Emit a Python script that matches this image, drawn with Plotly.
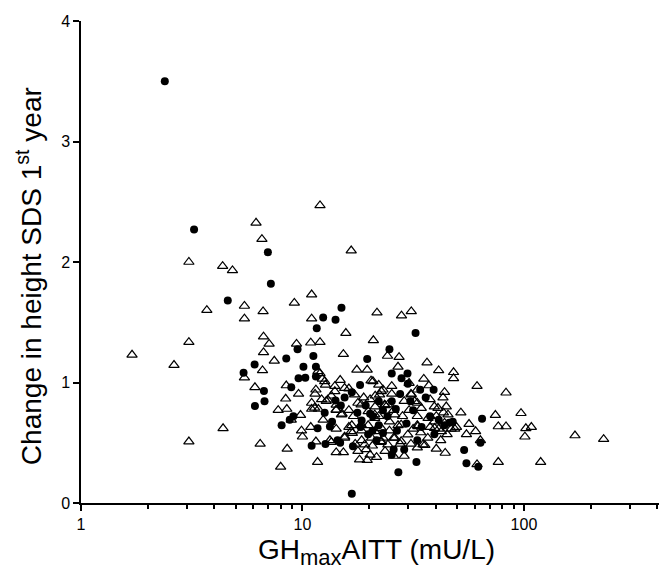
import plotly.graph_objects as go

# filled circles
circle_x = [2.39, 3.24, 4.60, 6.98, 7.2, 15.0, 12.4, 14.1, 11.6, 32.4, 24.7, 8.45, 9.5, 11.2,
            6.08, 5.42, 10.1, 11.5, 19.6, 29.8, 25.3, 9.6, 10.3, 11.5, 28.0, 6.7, 8.9, 6.1,
            6.74, 18.2, 29.9, 34.0, 39.1, 64.7, 53.7, 55.0, 62.2, 63.6, 32.7, 27.1, 16.7, 11.0,
            12.7, 16.9, 8.05, 8.76, 9.1, 11.7, 13.3, 14.4, 14.8, 12.6, 14.1, 16.7, 14.9, 18.5,
            19.3, 20.2, 20.7, 22.1, 23.1, 25.3, 27.6, 29.5, 31.6, 28.8, 25.8, 25.3, 37.7, 41.2,
            46.0, 39.4, 34.5, 33.0, 21.6, 19.8, 17.7, 23.1, 24.2, 30.7, 26.4, 22.1, 15.5, 13.6,
            43.8, 36.0, 20.8, 26.7, 18.3, 47.7]
circle_y = [3.50, 2.27, 1.68, 2.08, 1.82, 1.62, 1.54, 1.52, 1.45, 1.41, 1.275, 1.20, 1.275, 1.22,
            1.15, 1.08, 1.13, 1.13, 1.195, 1.075, 1.075, 1.035, 1.04, 1.05, 1.035, 0.93, 0.96, 0.805,
            0.845, 0.98, 0.99, 0.94, 0.94, 0.70, 0.44, 0.33, 0.30, 0.50, 0.34, 0.255, 0.077, 0.475,
            0.49, 0.47, 0.645, 0.69, 0.72, 0.62, 0.635, 0.52, 0.50, 0.75, 0.85, 0.92, 0.81, 0.685,
            0.81, 0.74, 0.60, 0.645, 0.77, 0.845, 0.905, 0.66, 0.77, 0.445, 0.445, 0.40, 0.72, 0.69,
            0.665, 0.57, 0.63, 0.52, 0.52, 0.57, 0.75, 0.58, 0.72, 0.845, 0.78, 0.845, 0.875, 0.675,
            0.645, 0.875, 0.72, 0.60, 0.63, 0.675]

# open triangles
tri_x = [1.70, 2.63, 3.07, 3.07, 3.07, 3.70, 4.36, 4.83, 4.38, 5.47, 5.47, 5.47, 6.17, 6.56,
         6.64, 6.67, 6.67, 7.07, 7.46, 6.6, 6.1, 6.44, 7.97, 8.53, 9.19, 9.4, 9.6, 8.45, 8.4,
         7.77, 8.5, 8.9, 9.8, 9.9, 10.0, 11.0, 11.0, 10.9, 12.0, 12.0, 16.6, 15.7, 15.3, 20.9,
         21.7, 28.0, 31.0, 24.2, 27.3, 27.0, 36.5, 41.2, 48.1, 48.1, 37.2, 43.8, 61.4, 83.0,
         51.9, 74.3, 97.0, 76.6, 83.0, 102, 108, 101, 170, 229, 119, 76.6, 61.4, 55.0, 56.5,
         60.5, 63.6, 48.7, 44.1, 40.2, 35.7, 28.8, 25.8, 21.6, 19.6, 18.1, 15.3, 14.2, 11.7,
         11.5, 10.9, 12.4, 13.3, 16.8, 16.7, 12.0, 12.3, 12.7, 11.4, 11.0, 11.0, 12.8, 14.0,
         14.8, 16.2, 17.6, 19.6, 20.4, 22.1, 23.1, 25.3, 30.9, 33.0, 37.7, 39.4, 40.2, 43.3,
         44.6, 46.9, 45.0, 42.1, 36.8, 34.2, 31.6, 33.0, 30.3, 28.3, 27.0, 24.7, 24.7, 25.8,
         23.6, 21.3, 21.3, 18.9, 17.8, 16.2, 15.1, 14.2, 13.5, 12.2, 11.8, 14.2, 15.5, 18.5,
         19.4, 20.7, 22.6, 23.1, 25.8, 27.6, 30.9, 33.0, 37.7, 41.2, 19.8, 18.5, 22.1, 20.2,
         39.4, 33.0, 16.2, 17.3, 23.6, 25.3, 28.8, 30.3, 14.2, 17.0, 33.0, 49.6, 43.1, 35.3,
         13.5, 20.2, 17.8,
         11.75, 12.6, 11.5, 11.35, 13.0, 14.2, 15.0, 14.0, 15.5, 17.2, 18.4, 19.8, 21.2, 18.4,
         16.6, 15.5, 19.1, 20.5, 22.7, 23.5, 22.3, 20.8, 22.7, 24.3, 21.2, 26.1, 27.9, 32.1,
         31.0, 34.4, 36.9, 33.2, 29.9, 26.1, 22.7, 21.2, 39.5, 42.4, 43.8, 40.9, 45.4, 27.9,
         24.3, 35.0]
tri_y = [1.23, 1.145, 2.0, 1.335, 0.51, 1.60, 1.965, 1.93, 0.62, 1.635, 1.53, 1.04, 2.325, 2.19,
         1.59, 1.38, 1.25, 1.32, 1.18, 1.10, 0.96, 0.49, 0.30, 0.45, 1.66, 1.32, 0.905, 0.975, 0.865,
         0.77, 0.78, 0.69, 0.73, 0.60, 0.55, 1.73, 1.53, 1.33, 1.335, 2.47, 2.095, 1.41, 1.235, 1.35,
         1.58, 1.555, 1.59, 1.22, 1.21, 1.13, 1.165, 1.10, 1.085, 1.035, 0.975, 0.92, 0.97, 0.915,
         0.75, 0.73, 0.745, 0.635, 0.635, 0.62, 0.63, 0.55, 0.56, 0.53, 0.34, 0.34, 0.32, 0.57, 0.655,
         0.595, 0.52, 0.615, 0.415, 0.45, 0.48, 0.39, 0.39, 0.38, 0.355, 0.36, 0.42, 0.42, 0.34,
         0.51, 0.63, 0.69, 0.52, 0.58, 0.645, 1.075, 1.03, 0.98, 0.905, 0.83, 0.78, 0.845, 0.97,
         1.02, 0.95, 1.105, 1.105, 1.015, 0.98, 0.94, 0.97, 0.905, 0.83, 0.86, 0.80, 0.72, 0.75,
         0.80, 0.615, 0.57, 0.52, 0.54, 0.585, 0.615, 0.72, 0.77, 0.72, 0.645, 0.60, 0.675, 0.77,
         0.81, 0.80, 0.89, 0.875, 0.83, 0.77, 0.74, 0.77, 0.89, 0.86, 0.78, 0.615, 0.55, 0.52,
         0.445, 0.475, 0.505, 0.54, 0.54, 0.49, 0.49, 0.46, 0.63, 0.615, 0.645, 0.60, 0.72, 0.86,
         0.675, 0.645, 0.63, 0.49, 0.43, 0.905, 0.845, 0.995, 0.815, 0.72, 0.94, 0.63, 0.875, 1.03,
         0.505, 0.40, 0.43,
         1.093, 1.01, 0.94, 0.79, 0.857, 0.774, 0.733, 0.927, 0.954, 0.899, 0.816, 0.761, 0.705, 0.65,
         0.595, 0.54, 0.484, 0.54, 0.622, 0.816, 0.899, 1.01, 0.927, 0.816, 0.733, 0.733, 0.65, 0.844,
         0.899, 0.788, 0.705, 0.636, 0.567, 0.54, 0.512, 0.595, 0.622, 0.595, 0.664, 0.788, 0.733, 0.512,
         0.484, 0.484]

font = "Liberation Sans, Arial, sans-serif"

fig = go.Figure()

fig.add_trace(go.Scatter(
    x=circle_x, y=circle_y, mode='markers',
    marker=dict(symbol='circle', size=8, color='black', line=dict(width=0))
))

fig.add_trace(go.Scatter(
    x=tri_x, y=tri_y, mode='markers',
    marker=dict(symbol='triangle-up-open', size=9, color='black', line=dict(width=1.2))
))

fig.update_layout(
    width=667, height=580,
    margin=dict(l=73, r=4, t=13, b=85),
    paper_bgcolor='white', plot_bgcolor='white',
    showlegend=False,
    font=dict(family=font, color='black', size=16),
    annotations=[
        dict(text="Change in height SDS 1<sup>st</sup> year", textangle=-90,
             xref='paper', yref='paper', x=-0.087, y=0.47,
             xanchor='center', yanchor='middle',
             showarrow=False, font=dict(size=28)),
        dict(text="GH<sub><span style='font-size:22px'>max</span></sub>AITT (mU/L)",
             xref='paper', yref='paper', x=0.5, y=-0.06,
             xanchor='center', yanchor='top',
             showarrow=False, font=dict(size=28)),
    ],
)

fig.update_xaxes(
    type='log', range=[0, 2.664], dtick=1,
    showline=True, linecolor='black', linewidth=1.5,
    ticks='outside', ticklen=6, tickcolor='black', tickwidth=1.5,
    minor=dict(ticks='outside', ticklen=4, tickcolor='black', tickwidth=1.5, showgrid=False),
    showgrid=False, zeroline=False,
)
fig.update_yaxes(
    range=[0, 4], dtick=1,
    showline=True, linecolor='black', linewidth=1.5,
    ticks='outside', ticklen=6, tickcolor='black', tickwidth=1.5,
    showgrid=False, zeroline=False,
)

fig.write_html("out.html")
